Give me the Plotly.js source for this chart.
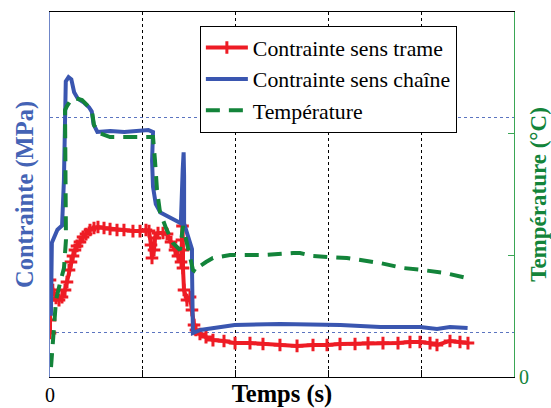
<!DOCTYPE html>
<html>
<head>
<meta charset="utf-8">
<script src="https://cdn.plot.ly/plotly-3.0.1.min.js"></script>
<style>html,body{margin:0;padding:0;background:#fff;}#chart{width:551px;height:408px;}</style>
</head>
<body>
<div id="chart"></div>
<script>
// Time (arbitrary units, only 0 labelled)
const redT = [0,0,0,0,0.03,0.065,0.097,0.129,0.162,0.183,0.205,0.226,0.248,0.269,0.291,0.323,0.356,0.388,0.431,0.474,0.517,0.582,0.647,0.722,0.797,0.894,0.97,1.034,1.067,1.088,1.099,1.121,1.131,1.164,1.218,1.261,1.304,1.347,1.379,1.412,1.422,1.428,1.433,1.433,1.444,1.476,1.509,1.53,1.552,1.573,1.616,1.681,1.756,1.875,1.994,2.155,2.295,2.478,2.662,2.834,2.985,3.125,3.287,3.427,3.588,3.75,3.879,3.987,4.095,4.17,4.31,4.418,4.504];
const redStress = [0,0.06,0.153,0.247,0.2,0.163,0.153,0.167,0.2,0.237,0.293,0.33,0.358,0.386,0.405,0.423,0.447,0.46,0.479,0.488,0.493,0.488,0.484,0.479,0.479,0.474,0.474,0.479,0.474,0.409,0.349,0.386,0.442,0.465,0.465,0.46,0.423,0.386,0.358,0.33,0.433,0.498,0.386,0.302,0.2,0.153,0.167,0.107,0.037,0.014,-0.005,-0.019,-0.033,-0.037,-0.047,-0.047,-0.051,-0.056,-0.06,-0.056,-0.056,-0.051,-0.051,-0.047,-0.047,-0.047,-0.042,-0.042,-0.047,-0.056,-0.037,-0.042,-0.047];

const blueT = [0.01,0.02,0.08,0.13,0.15,0.16,0.17,0.2,0.23,0.26,0.3,0.37,0.42,0.45,0.47,0.51,0.65,0.8,1.0,1.06,1.11,1.1,1.11,1.14,1.19,1.29,1.38,1.41,1.43,1.44,1.445,1.445,1.48,1.51,1.53,1.53,1.54,1.54,1.62,1.76,1.99,2.48,3.13,3.56,3.99,4.17,4.31,4.5];
const blueStress = [0.08,0.42,0.48,0.5,0.71,0.99,1.17,1.19,1.18,1.12,1.09,1.07,1.05,1.03,0.97,0.935,0.94,0.935,0.94,0.944,0.935,0.8,0.68,0.6,0.56,0.535,0.516,0.51,0.76,0.84,0.73,0.51,0.46,0.42,0.39,0.31,0.15,0.0,0.014,0.023,0.037,0.042,0.037,0.028,0.028,0.019,0.028,0.023];

const greenT = [0.011,0.032,0.065,0.108,0.151,0.172,0.172,0.162,0.162,0.183,0.226,0.269,0.345,0.409,0.453,0.474,0.528,0.647,0.797,1.002,1.11,1.131,1.153,1.185,1.25,1.325,1.401,1.433,1.466,1.509,1.541,1.573,1.616,1.681,1.756,1.94,2.295,2.619,2.694,2.834,3.2,3.556,3.804,4.019,4.256,4.494];
const greenTemp = [0.082,0.345,0.633,0.772,0.896,1.126,1.619,2.112,2.194,2.227,2.277,2.293,2.277,2.227,2.178,2.071,2.005,1.972,1.972,1.972,1.972,1.783,1.537,1.356,1.224,1.101,1.044,1.241,1.126,1.002,0.879,0.863,0.912,0.945,0.978,1.002,1.002,1.019,1.019,0.994,0.978,0.937,0.896,0.879,0.855,0.813];

const xTickVals = [0,1,2,3,4,5];
const xTickText = ['0','','','','',''];
const y2TickVals = [0,1,2,3];
const y2TickText = ['0','','',''];

const RED = '#ee1c25', BLUE = '#3a56b0', GREEN = '#13843a';
const SERIF = '"Liberation Serif", "Times New Roman", Times, serif';

const traces = [
  {x: redT, y: redStress, name: 'Contrainte sens trame', mode: 'lines+markers', yaxis: 'y',
   line: {color: RED, width: 4},
   marker: {symbol: 'cross-thin', size: 9, color: RED, line: {color: RED, width: 3}}},
  {x: blueT, y: blueStress, name: 'Contrainte sens chaîne', mode: 'lines', yaxis: 'y',
   line: {color: BLUE, width: 4}},
  {x: greenT, y: greenTemp, name: 'Température', mode: 'lines', yaxis: 'y2',
   line: {color: GREEN, width: 4, dash: '14px,9px'}}
];

const layout = {
  width: 551, height: 408,
  margin: {l: 50, r: 37, t: 12, b: 31, pad: 0},
  paper_bgcolor: '#fff', plot_bgcolor: '#fff',
  font: {family: SERIF, size: 18, color: '#000'},
  showlegend: true,
  legend: {x: 0.323, y: 0.962, xanchor: 'left', yanchor: 'top', itemwidth: 42,
    bgcolor: '#fff', bordercolor: '#000', borderwidth: 1,
    font: {family: SERIF, size: 21.8, color: '#000'}},
  xaxis: {range: [0, 5], tickvals: xTickVals, ticktext: xTickText,
    showline: true, linecolor: '#000', linewidth: 1, mirror: true,
    ticks: 'inside', ticklen: 7, tickcolor: '#000',
    showgrid: true, gridcolor: '#000', griddash: 'dot', gridwidth: 1,
    zeroline: false, tickfont: {family: SERIF, size: 20, color: '#000'},
    title: {text: '<b>Temps (s)</b>', font: {family: SERIF, size: 24.5, color: '#000'}, standoff: 0}},
  yaxis: {range: [-0.2047, 1.493], tickvals: [0, 1], showticklabels: false,
    showline: true, linecolor: '#6f86c8', linewidth: 1,
    ticks: '', showgrid: true, gridcolor: '#5b74c0', griddash: 'dot', gridwidth: 1,
    zeroline: false,
    title: {text: '<b>Contrainte (MPa)</b>', font: {family: SERIF, size: 24.5, color: '#4463b5'}, standoff: 8}},
  yaxis2: {range: [0, 3], overlaying: 'y', side: 'right', tickvals: y2TickVals, ticktext: y2TickText,
    showline: true, linecolor: '#3aa655', linewidth: 1,
    ticks: 'inside', ticklen: 6, tickcolor: '#3aa655',
    showgrid: false, zeroline: false,
    tickfont: {family: SERIF, size: 20, color: GREEN},
    title: {text: '<b>Température (°C)</b>', font: {family: SERIF, size: 23, color: GREEN}, standoff: 4}}
};

Plotly.newPlot('chart', traces, layout, {displayModeBar: false, staticPlot: true});
</script>
</body>
</html>
